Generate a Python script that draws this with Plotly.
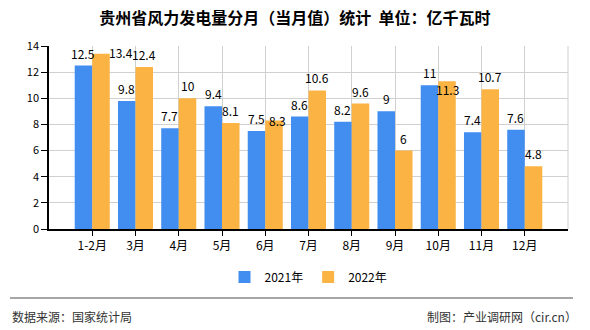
import plotly.graph_objects as go

categories = ["1-2月", "3月", "4月", "5月", "6月", "7月", "8月", "9月", "10月", "11月", "12月"]
series_names = ["2021年", "2022年"]
values_2021 = [12.5, 9.8, 7.7, 9.4, 7.5, 8.6, 8.2, 9, 11, 7.4, 7.6]
values_2022 = [13.4, 12.4, 10, 8.1, 8.3, 10.6, 9.6, 6, 11.3, 10.7, 4.8]
y_ticks = [0, 2, 4, 6, 8, 10, 12, 14]

title_text = "贵州省风力发电量分月（当月值）统计  单位：亿千瓦时"
source_text = "数据来源：国家统计局"
credit_text = "制图：产业调研网（cir.cn）"

colors = ["#428EF0", "#FBB444"]
FONT = "Noto Sans CJK SC"

# layout geometry (pixels)
W, H = 590, 330
ML, MR, MT, MB = 49, 22, 46, 101
plot_w = W - ML - MR
plot_h = H - MT - MB
n_slots = len(categories) + 1
slot_px = plot_w / n_slots
bargap = 0.19
bar_px = slot_px * (1 - bargap) / 2

# label offsets (px) for labels moved by the original chart's overlap handling
label_adjust = {
    (1, 0): (19.5, 1),
    (1, 4): (3, 0),
    (1, 8): (0, -8),
}
default_dy = 12.5

fig = go.Figure()
for i, (name, vals) in enumerate(zip(series_names, [values_2021, values_2022])):
    fig.add_trace(go.Bar(
        x=categories, y=vals, name=name,
        marker=dict(color=colors[i], line=dict(width=0)),
        hoverinfo="x+y",
    ))

annotations = []
for i, vals in enumerate([values_2021, values_2022]):
    base_dx = (-0.5 if i == 0 else 0.5) * bar_px
    for j, v in enumerate(vals):
        dx, dy = label_adjust.get((i, j), (0, default_dy))
        annotations.append(dict(
            x=categories[j], y=v, xref="x", yref="y",
            text=f"{v:g}", showarrow=False,
            xshift=base_dx + dx, yshift=dy,
            font=dict(family=FONT, size=12, color="#000000"),
            xanchor="center", yanchor="middle",
        ))

def px_to_paper_x(px):
    return (px - ML) / plot_w

def px_to_paper_y(py):
    return (H - MB - py) / plot_h

annotations.append(dict(
    x=px_to_paper_x(10), y=px_to_paper_y(316), xref="paper", yref="paper",
    text=source_text, showarrow=False, xanchor="left", yanchor="middle",
    font=dict(family=FONT, size=12, color="#333333"),
))
annotations.append(dict(
    x=px_to_paper_x(579), y=px_to_paper_y(316), xref="paper", yref="paper",
    text=credit_text, showarrow=False, xanchor="right", yanchor="middle",
    font=dict(family=FONT, size=12, color="#333333"),
))

shapes = [
    dict(type="line", xref="paper", yref="paper",
         x0=px_to_paper_x(10), x1=px_to_paper_x(573),
         y0=px_to_paper_y(298), y1=px_to_paper_y(298),
         line=dict(color="#888888", width=1.5)),
    dict(type="line", xref="paper", yref="paper", x0=1, x1=1, y0=0, y1=1,
         line=dict(color="#d0d0d0", width=1)),
]

fig.update_layout(
    width=W, height=H,
    margin=dict(l=ML, r=MR, t=MT, b=MB, autoexpand=False),
    paper_bgcolor="white", plot_bgcolor="white",
    barmode="group", bargap=bargap, bargroupgap=0,
    title=dict(text=f"<b>{title_text}</b>", x=0.5, xanchor="center",
               y=1 - 18 / H, yanchor="middle", yref="container",
               font=dict(family=FONT, size=16, color="#000000")),
    font=dict(family=FONT, size=11, color="#000000"),
    showlegend=True,
    legend=dict(orientation="h", x=0.5, xanchor="center",
                y=px_to_paper_y(277), yanchor="middle",
                font=dict(family=FONT, size=12, color="#000000"),
                itemwidth=30, traceorder="normal"),
    annotations=annotations,
    shapes=shapes,
    hovermode="closest",
)

fig.update_xaxes(
    type="category", categoryorder="array", categoryarray=categories,
    range=[-1, len(categories)],
    showline=True, linecolor="#000000", linewidth=1.5,
    ticks="outside", ticklen=5, tickcolor="#000000",
    showgrid=True, gridcolor="#d0d0d0", gridwidth=1,
    tickfont=dict(family=FONT, size=12, color="#000000"),
    zeroline=False, fixedrange=True,
)
fig.update_yaxes(
    range=[0, 14], tickvals=y_ticks,
    showline=True, linecolor="#000000", linewidth=1.5,
    ticks="outside", ticklen=6, tickcolor="#000000",
    showgrid=True, gridcolor="#d0d0d0", gridwidth=1,
    tickfont=dict(family=FONT, size=11, color="#000000"),
    zeroline=False, fixedrange=True,
)

fig.write_html("out.html")
